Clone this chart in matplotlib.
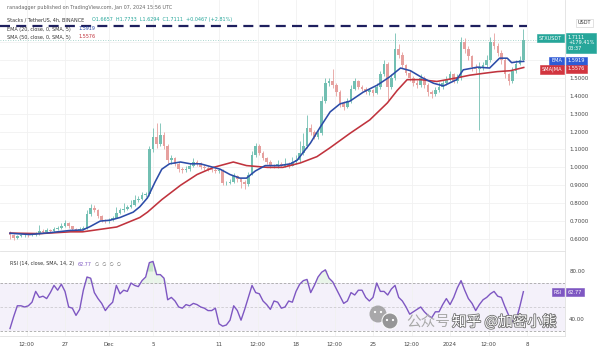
import numpy as np
import matplotlib
matplotlib.use("Agg")
import matplotlib.pyplot as plt
from matplotlib.patches import Circle
import matplotlib.patheffects as pe

# STX/USDT candles (one per 8h)
closes = [0.625, 0.605, 0.615, 0.620, 0.625, 0.620, 0.625, 0.630, 0.645, 0.640,
          0.650, 0.645, 0.655, 0.660, 0.675, 0.690, 0.670, 0.655, 0.650, 0.655,
          0.660, 0.740, 0.775, 0.760, 0.730, 0.705, 0.700, 0.705, 0.720, 0.745,
          0.760, 0.770, 0.780, 0.790, 0.820, 0.825, 0.845, 0.850, 1.100, 1.170,
          1.130, 1.180, 1.120, 1.040, 1.050, 1.020, 0.990, 0.985, 0.990, 1.010,
          1.030, 1.020, 1.000, 0.995, 0.990, 0.985, 0.980, 0.985, 0.910, 0.915,
          0.920, 0.950, 0.935, 0.920, 0.905, 0.960, 1.070, 1.120, 1.080, 1.050,
          1.030, 1.010, 1.005, 1.020, 1.010, 1.020, 1.010, 1.030, 1.040, 1.080,
          1.120, 1.220, 1.200, 1.170, 1.190, 1.370, 1.470, 1.480, 1.460, 1.420,
          1.360, 1.340, 1.370, 1.440, 1.480, 1.450, 1.440, 1.420, 1.430, 1.415,
          1.450, 1.520, 1.580, 1.450, 1.500, 1.660, 1.630, 1.570, 1.530, 1.500,
          1.470, 1.460, 1.500, 1.460, 1.420, 1.410, 1.430, 1.450, 1.470, 1.490,
          1.520, 1.480, 1.500, 1.700, 1.660, 1.620, 1.560, 1.550, 1.560, 1.570,
          1.600, 1.700, 1.680, 1.640, 1.600, 1.520, 1.480, 1.540, 1.580, 1.600,
          1.711]
highs = [0.645, 0.630, 0.625, 0.630, 0.635, 0.632, 0.635, 0.640, 0.680, 0.655,
         0.660, 0.658, 0.665, 0.672, 0.690, 0.705, 0.695, 0.675, 0.662, 0.665,
         0.672, 0.760, 0.795, 0.790, 0.765, 0.735, 0.712, 0.715, 0.730, 0.780,
         0.775, 0.800, 0.792, 0.820, 0.845, 0.840, 0.865, 0.862, 1.120, 1.220,
         1.250, 1.250, 1.200, 1.130, 1.070, 1.060, 1.030, 1.000, 1.005, 1.025,
         1.050, 1.040, 1.028, 1.012, 1.005, 1.000, 0.995, 0.998, 0.990, 0.925,
         0.935, 0.970, 0.958, 0.942, 0.930, 0.975, 1.090, 1.135, 1.130, 1.090,
         1.060, 1.040, 1.020, 1.040, 1.028, 1.050, 1.030, 1.060, 1.070, 1.150,
         1.190, 1.290, 1.240, 1.210, 1.210, 1.400, 1.500, 1.500, 1.550, 1.470,
         1.430, 1.370, 1.385, 1.460, 1.500, 1.490, 1.460, 1.450, 1.445, 1.440,
         1.470, 1.540, 1.600, 1.590, 1.520, 1.750, 1.690, 1.645, 1.580, 1.545,
         1.510, 1.490, 1.520, 1.510, 1.470, 1.430, 1.450, 1.475, 1.490, 1.510,
         1.540, 1.530, 1.520, 1.730, 1.720, 1.680, 1.630, 1.575, 1.590, 1.590,
         1.630, 1.730, 1.750, 1.695, 1.655, 1.610, 1.530, 1.560, 1.600, 1.620,
         1.773]
lows = [0.600, 0.595, 0.600, 0.610, 0.612, 0.612, 0.615, 0.618, 0.625, 0.632,
        0.635, 0.638, 0.640, 0.648, 0.655, 0.668, 0.662, 0.648, 0.642, 0.645,
        0.648, 0.655, 0.730, 0.748, 0.720, 0.695, 0.690, 0.692, 0.700, 0.715,
        0.738, 0.752, 0.762, 0.772, 0.785, 0.808, 0.818, 0.835, 0.840, 1.085,
        1.110, 1.120, 1.100, 1.025, 1.020, 1.005, 0.975, 0.970, 0.975, 0.982,
        1.000, 1.008, 0.990, 0.985, 0.978, 0.975, 0.968, 0.970, 0.900, 0.900,
        0.905, 0.912, 0.920, 0.885, 0.880, 0.898, 0.955, 1.060, 1.070, 1.040,
        1.020, 0.998, 0.995, 0.998, 1.000, 1.002, 0.998, 1.005, 1.020, 1.030,
        1.070, 1.110, 1.180, 1.160, 1.160, 1.180, 1.360, 1.455, 1.445, 1.400,
        1.340, 1.320, 1.330, 1.360, 1.430, 1.440, 1.425, 1.410, 1.405, 1.400,
        1.410, 1.440, 1.510, 1.376, 1.440, 1.490, 1.610, 1.555, 1.515, 1.485,
        1.455, 1.445, 1.450, 1.445, 1.400, 1.390, 1.400, 1.420, 1.440, 1.460,
        1.480, 1.470, 1.470, 1.490, 1.640, 1.600, 1.540, 1.530, 1.210, 1.545,
        1.560, 1.590, 1.660, 1.620, 1.580, 1.500, 1.460, 1.470, 1.530, 1.570,
        1.595]
first_open = 0.635

# EMA(20) and SMA(50), read at days after Nov 22
ema_day = [0, 1.8, 3.6, 5.5, 6.6, 7.3, 8.2, 9.1, 10.0, 11.2, 11.8, 12.5, 13.2, 13.8,
           14.5, 15.5, 16.4, 17.3, 18.2, 19.1, 20.0, 20.9, 21.5, 22.3, 23.2, 24.5,
           25.5, 26.1, 27.3, 28.2, 29.1, 30.0, 30.9, 32.1, 33.4, 34.5, 35.5, 36.4,
           37.5, 38.5, 39.4, 40.6, 41.2, 42.5, 43.6, 44.5, 45.2, 45.6, 46.1, 46.7]
ema_val = [0.632, 0.625, 0.635, 0.648, 0.650, 0.670, 0.700, 0.705, 0.720, 0.750,
           0.780, 0.830, 0.920, 0.990, 1.020, 1.030, 1.020, 1.020, 1.005, 0.990,
           0.960, 0.940, 0.940, 0.980, 1.010, 1.010, 1.020, 1.040, 1.135, 1.225,
           1.310, 1.355, 1.370, 1.420, 1.460, 1.505, 1.555, 1.540, 1.500, 1.470,
           1.455, 1.490, 1.545, 1.560, 1.555, 1.610, 1.610, 1.585, 1.590, 1.592]
sma_day = [0, 2.7, 5.5, 6.6, 9.7, 11.8, 12.5, 13.8, 15.5, 17.0, 18.5, 20.3, 21.5,
           23.4, 24.8, 26.4, 27.9, 29.1, 30.9, 32.7, 34.3, 35.2, 36.1, 37.3, 38.8,
           40.6, 41.8, 43.0, 44.3, 45.5, 46.7]
sma_val = [0.633, 0.630, 0.640, 0.640, 0.667, 0.720, 0.750, 0.820, 0.900, 0.960,
           1.000, 1.030, 1.010, 1.000, 1.000, 1.025, 1.060, 1.110, 1.190, 1.265,
           1.360, 1.430, 1.490, 1.490, 1.480, 1.500, 1.515, 1.525, 1.535, 1.540,
           1.558]

# RSI(14), one per candle
rsi = [32, 42, 51, 51, 50, 51, 54, 63, 58, 59, 57, 62, 68, 64, 69, 63, 50, 49, 43, 48,
       64, 75, 74, 62, 57, 53, 47, 51, 54, 68, 61, 64, 63, 70, 68, 67, 72, 75, 87, 88,
       77, 77, 74, 56, 58, 55, 50, 49, 52, 51, 53, 52, 50, 49, 47, 47, 49, 36, 34, 35,
       39, 51, 47, 39, 48, 58, 68, 62, 61, 55, 52, 48, 55, 54, 49, 50, 55, 54, 63, 69,
       72, 73, 62, 68, 75, 79, 81, 74, 71, 65, 59, 53, 55, 62, 60, 64, 64, 58, 55, 58,
       70, 63, 63, 60, 65, 68, 58, 55, 50, 44, 46, 48, 50, 46, 43, 41, 46, 46, 52, 57,
       52, 58, 66, 72, 64, 57, 53, 47, 52, 56, 58, 61, 63, 59, 58, 50, 43, 38, 39, 50,
       62.77]

tick_day = [1.5, 5, 9, 13, 19, 22.5, 26, 29.5, 33, 36.5, 40, 43.5, 47]
tick_text = ["12:00", "27", "Dec", "5", "11", "12:00", "18", "12:00", "25", "12:00",
             "2024", "12:00", "8"]
price_ticks = [0.6, 0.7, 0.8, 0.9, 1.0, 1.1, 1.2, 1.3, 1.4, 1.5, 1.6, 1.7]

plt.rcParams['font.family'] = ['DejaVu Sans']
W, H = 600, 353
fig = plt.figure(figsize=(6, 3.53), dpi=100)

n = len(closes)
t = np.arange(n) / 3.0
closes = np.array(closes)
opens = np.concatenate([[first_open], closes[:-1]])
up = closes >= opens
up_col, dn_col = "#72bfb2", "#e6a09e"
colors = np.where(up, up_col, dn_col)

ax = fig.add_axes([0, 1 - 250 / H, 565 / W, 250 / H])
ax.set_xlim(-0.909, 50.45)
ax.set_ylim(0.5385, 1.935)
ax.vlines(t, lows, highs, colors=colors, lw=0.6, zorder=2)
body = np.maximum(np.abs(closes - opens), 0.003)
ax.bar(t, body, bottom=np.minimum(opens, closes), width=0.22, color=colors, zorder=3)
ax.plot(sma_day, sma_val, color="#c0333d", lw=1.15, zorder=4)
ax.plot(ema_day, ema_val, color="#2c4ca8", lw=1.15, zorder=5)
ax.axhline(1.7111, color="#8fc9bf", lw=0.6, ls=(0, (1, 2)), zorder=1)
ax.plot([-0.9, 47.0], [1.79, 1.79], color="#1e1f5e", lw=1.6, ls=(0, (4.5, 2.8)), zorder=6)
ax.set_xticks(tick_day)
ax.set_xticklabels([])
ax.set_yticks(price_ticks)
ax.set_yticklabels(["%.4f" % p if p < 1.55 else "" for p in price_ticks])
ax.yaxis.tick_right()
ax.tick_params(axis="y", length=0, pad=3, labelsize=4, labelcolor="#444")
ax.tick_params(axis="x", length=0)
ax.grid(True, color="#f1f1f1", lw=0.6)
for s in ["top", "left", "bottom"]:
    ax.spines[s].set_visible(False)
ax.spines["right"].set_color("#e0e0e0")
ax.spines["right"].set_linewidth(0.6)

# RSI pane
ax2 = fig.add_axes([0, 1 - 336 / H, 565 / W, 85 / H])
ax2.set_xlim(-0.909, 50.45)
ax2.set_ylim(25.8, 96.7)
rsi = np.array(rsi)
ax2.fill_between([-0.909, 50.45], 30, 70, color="#7e57c2", alpha=0.08, lw=0)
ax2.fill_between(t, 70, np.maximum(rsi, 70), color="#4caf50", alpha=0.12, lw=0)
ax2.fill_between(t, 80, np.maximum(rsi, 80), color="#4caf50", alpha=0.2, lw=0)
for lvl, a in [(70, 0.9), (50, 0.45), (30, 0.9)]:
    ax2.axhline(lvl, color="#9e9e9e", lw=0.6, ls=(0, (3, 2)), alpha=a)
ax2.plot(t, rsi, color="#7e57c2", lw=1.0)
ax2.set_xticks(tick_day)
ax2.set_xticklabels(tick_text)
ax2.tick_params(axis="x", length=0, pad=4, labelsize=4, labelcolor="#444")
ax2.set_yticks([40, 60, 80])
ax2.set_yticklabels(["40.00", "", "80.00"])
ax2.yaxis.tick_right()
ax2.tick_params(axis="y", length=0, pad=3, labelsize=4, labelcolor="#444")
ax2.grid(True, axis="x", color="#f1f1f1", lw=0.6)
ax2.spines["left"].set_visible(False)
for s in ["top", "bottom", "right"]:
    ax2.spines[s].set_color("#e0e0e0")
    ax2.spines[s].set_linewidth(0.6)

# overlay in pixel coordinates for header texts, labels and watermark
ov = fig.add_axes([0, 0, 1, 1], facecolor="none")
ov.set_xlim(0, W)
ov.set_ylim(H, 0)
ov.axis("off")
fs = 3.5
ov.text(7, 7, "ranadagger published on TradingView.com, Jan 07, 2024 15:56 UTC",
        fontsize=fs, color="#666", va="center")
ov.text(7, 20, "Stacks / TetherUS, 4h, BINANCE", fontsize=fs, color="#333", va="center")
ov.text(92, 20, "O1.6657  H1.7733  L1.6294  C1.7111  +0.0467 (+2.81%)",
        fontsize=fs, color="#26a69a", va="center")
ov.text(7, 29, "EMA (20, close, 0, SMA, 5)", fontsize=fs, color="#333", va="center")
ov.text(78, 29, "1.5919", fontsize=fs, color="#2c4ca8", va="center")
ov.text(7, 37, "SMA (50, close, 0, SMA, 5)", fontsize=fs, color="#333", va="center")
ov.text(78, 37, "1.5576", fontsize=fs, color="#c0333d", va="center")
ov.text(10, 264, "RSI (14, close, SMA, 14, 2)", fontsize=fs, color="#333", va="center")
ov.text(78, 264, "62.77", fontsize=fs, color="#7e57c2", va="center")
ov.text(95, 264, "\u2205  \u2205  \u2205  \u2205", fontsize=fs, color="#666", va="center")

def tag(x, y, s, col, ha="left", tc="white"):
    ov.text(x, y, s, fontsize=3.6, color=tc, ha=ha, va="center", linespacing=1.15,
            bbox=dict(boxstyle="square,pad=0.35", fc=col, ec=col, lw=0.4))

tag(578, 23, "USDT", "white", ha="left", tc="#333")
ov.texts[-1].get_bbox_patch().set_edgecolor("#cccccc")
tag(562, 38, "STXUSDT", "#26a69a", ha="right")
tag(568, 43, "1.7111\n+179.41%\n03:37", "#26a69a")
tag(562, 61, "EMA", "#2e5bd6", ha="right")
tag(568, 61, "1.5919", "#2e5bd6")
tag(562, 69, "SMA|MA", "#d2353f", ha="right")
tag(568, 69, "1.5576", "#d2353f")
tag(562, 292, "RSI", "#7e57c2", ha="right")
tag(568, 292, "62.77", "#7e57c2")

# watermark
ov.add_patch(Circle((378, 314), 8.5, color="#9c9c9c", alpha=0.85, lw=0))
ov.add_patch(Circle((390, 321), 8, fc="#8c8c8c", ec="white", lw=0.8, alpha=0.9))
for ex, ey in [(375, 312), (381, 312), (387, 320), (393, 320)]:
    ov.add_patch(Circle((ex, ey), 1.1, color="white", lw=0))
cjk = ["Noto Sans CJK SC", "DejaVu Sans"]
ov.text(406, 322, "公众号", fontsize=10.5, color="#a9a9a9", va="center", family=cjk)
ov.text(452, 322, "知乎 @加密小熊", fontsize=10.5, color="white", va="center", family=cjk,
        path_effects=[pe.withStroke(linewidth=1.2, foreground="#707070")])

fig.savefig("out.png", dpi=100, facecolor="white")
